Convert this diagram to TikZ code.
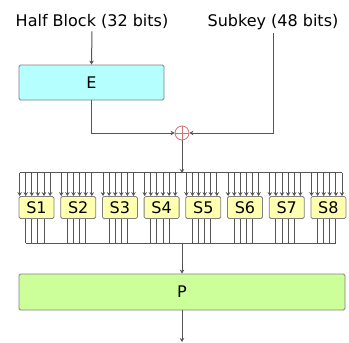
\documentclass[tikz,border=0pt]{standalone}
\usepackage{fontspec}
\setmainfont{DejaVu Sans}
\usetikzlibrary{arrows.meta,calc}
\definecolor{wire}{HTML}{555555}
\definecolor{edge}{HTML}{808080}
\definecolor{efill}{HTML}{B5FFFF}
\definecolor{sfill}{HTML}{FFFFB0}
\definecolor{pfill}{HTML}{CCFF99}
\definecolor{xred}{HTML}{D07070}
\tikzset{
  wirearr/.style={draw=wire,line width=1pt,-{Stealth[length=4pt,width=4.5pt]}},
  wireln/.style={draw=wire,line width=1pt},
  boxstep/.style={draw=edge,line width=0.8pt,rounded corners=1.5pt,inner sep=0pt},
  sbox/.style={boxstep,fill=sfill,minimum width=35pt,minimum height=22pt}
}
\begin{document}
\begin{tikzpicture}[x=1pt,y=-1pt,font=\fontsize{16}{19}\selectfont]
                \useasboundingbox (0,0) rectangle (349,343);
                \node[anchor=base,inner sep=3pt] (hb) at (92,26) {Half Block (32 bits)};
                \node[anchor=base,inner sep=3pt] (sk) at (273,26) {Subkey (48 bits)};
                \node[boxstep,fill=efill,minimum width=145pt,minimum height=35pt] (E) at (91.5,82.5) {E};
                \node[draw=xred,line width=0.8pt,circle,minimum size=14pt,inner sep=0pt] (xor) at (182,133) {};
                \draw[xred,line width=0.8pt] (xor.north) -- (xor.south) (xor.west) -- (xor.east);
                \node[boxstep,fill=pfill,minimum width=326pt,minimum height=36pt] (P) at (182,292) {P};
                \draw[wirearr] (hb.south) -- (E.north);
                \draw[wirearr] (E.south) |- (xor.west);
                \draw[wirearr] (sk.south -| 273,0) |- (xor.east);
                % s-boxes with six wires in and four wires out
                \foreach \i in {1,...,8}{
                  \node[sbox] (S\i) at ({36.5+41.7*(\i-1)},207.5) {S\i};
                  \foreach \j in {0,...,5}
                    \draw[wirearr] ($(S\i.north west)+({1+6.1*\j},-23.5)$) -- ($(S\i.north west)+({1+6.1*\j},0)$);
                  \foreach \j in {1,...,4}
                    \draw[wireln] ($(S\i.south west)+({1+6.1*\j},0)$) -- ($(S\i.south west)+({1+6.1*\j},24.2)$);
                }
                \coordinate (busT) at (182,173);
                \coordinate (busB) at (182,242.7);
                \coordinate (out) at (182,342);
                \draw[wireln] ($(S1.north west)+(1,-23.5)$) -- ($(S8.north west)+(31.5,-23.5)$);
                \draw[wireln] ($(S1.south west)+(7.1,24.2)$) -- ($(S8.south west)+(25.4,24.2)$);
                \draw[wirearr] (xor.south) -- (busT);
                \draw[wirearr] (busB) -- (P.north);
                \draw[wirearr] (P.south) -- (out);
\end{tikzpicture}
\end{document}
